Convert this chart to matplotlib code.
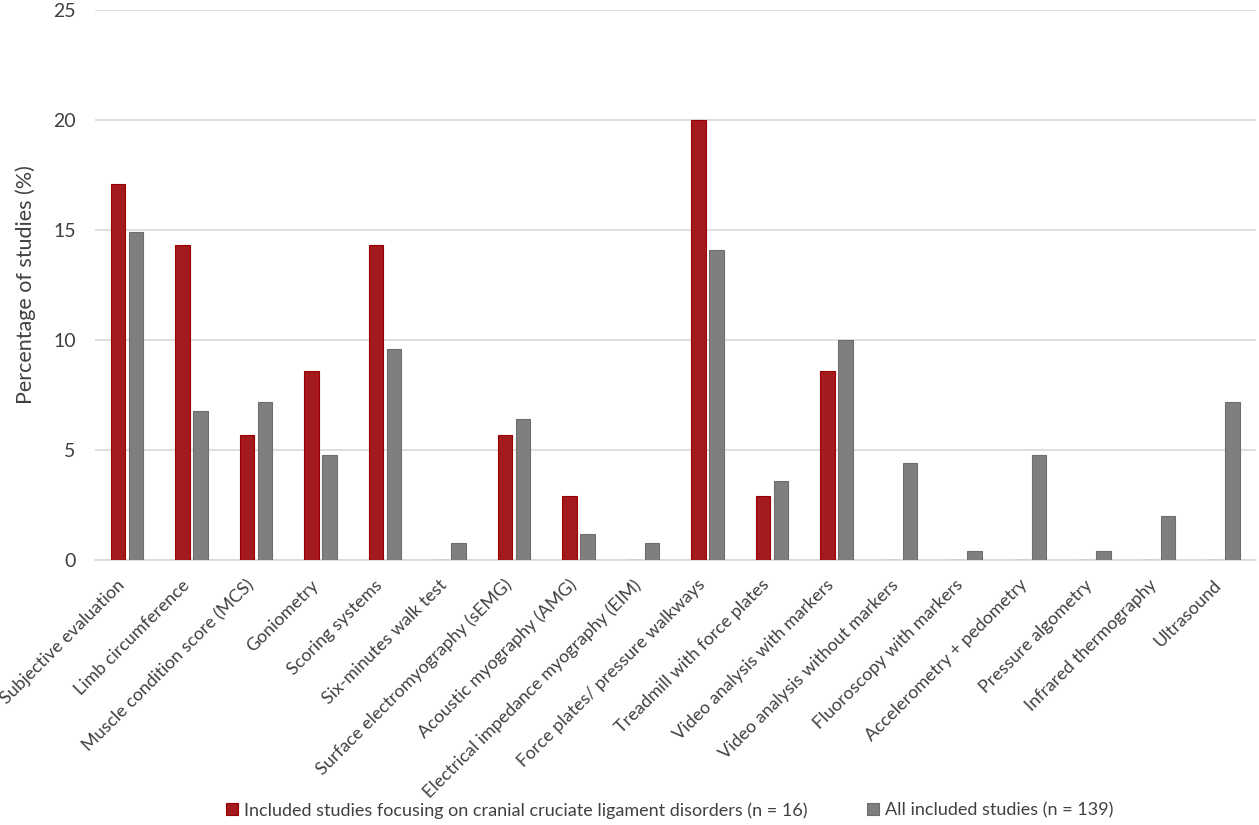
import matplotlib
matplotlib.use("Agg")
import matplotlib.pyplot as plt
import matplotlib.transforms as mtrans
import numpy as np

plt.rcParams['font.family'] = ['Lato', 'DejaVu Sans']

methods = ["Subjective evaluation", "Limb circumference", "Muscle condition score (MCS)",
           "Goniometry", "Scoring systems", "Six-minutes walk test",
           "Surface electromyography (sEMG)", "Acoustic myography (AMG)",
           "Electrical impedance myography (EIM)", "Force plates/ pressure walkways",
           "Treadmill with force plates", "Video analysis with markers",
           "Video analysis without markers", "Fluoroscopy with markers",
           "Accelerometry + pedometry", "Pressure algometry", "Infrared thermography",
           "Ultrasound"]
ccl_pct = [17.1, 14.3, 5.7, 8.6, 14.3, 0, 5.7, 2.9, 0, 20.0, 2.9, 8.6, 0, 0, 0, 0, 0, 0]
all_pct = [14.9, 6.8, 7.2, 4.8, 9.6, 0.8, 6.4, 1.2, 0.8, 14.1, 3.6, 10.0, 4.4, 0.4, 4.8, 0.4, 2.0, 7.2]
ccl_label = "Included studies focusing on cranial cruciate ligament disorders (n = 16)"
all_label = "All included studies (n = 139)"

red = "#a31b1e"
grey = "#7f7f7f"
txt = "#404040"

fig = plt.figure(figsize=(12.59, 8.25), dpi=100)
ax = fig.add_axes([0.0755, 0.321, 0.922, 0.667])

x = np.arange(len(methods))
w = 0.225
ax.bar(x - 0.145, ccl_pct, w, color=red, edgecolor="#9a0000", linewidth=0.8, label=ccl_label, zorder=3)
ax.bar(x + 0.135, all_pct, w, color=grey, edgecolor="#6e6e6e", linewidth=0.8, label=all_label, zorder=3)

ax.set_xlim(-0.5, len(methods) - 0.5)
ax.set_ylim(0, 25)
ax.set_yticks([0, 5, 10, 15, 20, 25])
ax.yaxis.grid(True, color="#d9d9d9", linewidth=1.2, zorder=0)
ax.set_axisbelow(True)
for s in ["top", "right", "left"]:
    ax.spines[s].set_visible(False)
ax.spines["bottom"].set_color("#d9d9d9")
ax.spines["bottom"].set_linewidth(1.2)
ax.tick_params(axis="both", length=0, colors=txt, labelsize=14)
ax.tick_params(axis="y", pad=14)

ax.set_xticks(x)
ax.set_xticklabels(methods, rotation=45, ha="right", va="center", rotation_mode="anchor", fontsize=12.9, color=txt)
ax.tick_params(axis="x", pad=16)
# nudge rotated labels a little to the left so they end under the bar pair
shift = mtrans.ScaledTranslation(-0.05, 0, fig.dpi_scale_trans)
for lbl in ax.get_xticklabels():
    lbl.set_transform(lbl.get_transform() + shift)

ax.set_ylabel("Percentage of studies (%)", fontsize=15.5, color=txt, labelpad=12)

fig.legend(loc="lower center", bbox_to_anchor=(0.532, -0.012), ncol=2, frameon=False,
           fontsize=13, handlelength=0.65, handleheight=0.65, handletextpad=0.35,
           columnspacing=3.3, labelcolor=txt)

fig.savefig("out.png", dpi=100)
